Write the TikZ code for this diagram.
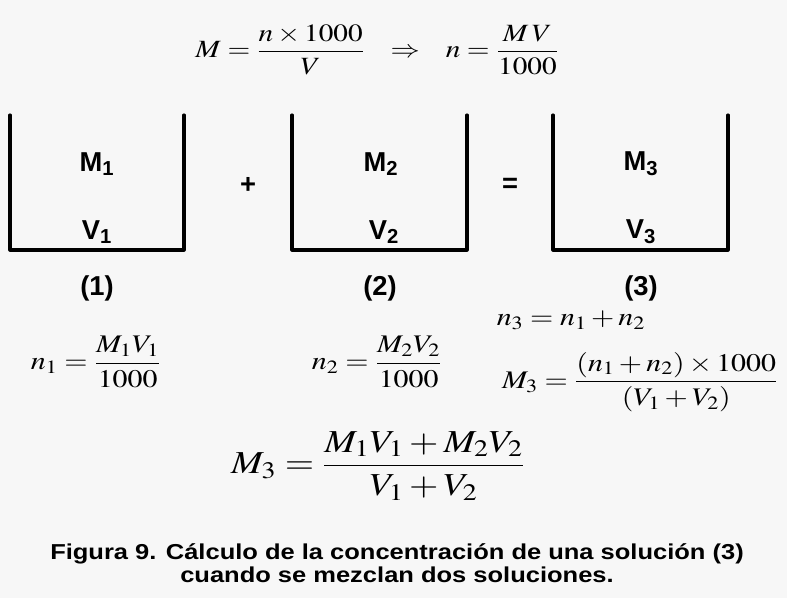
\documentclass[tikz,border=0pt]{standalone}
\usepackage{amsmath}
\usepackage{mathptmx}
\usepackage[no-math]{fontspec}
\setsansfont{Liberation Sans}
\definecolor{paper}{RGB}{247,247,247}
\newcommand{\widen}[1]{\scalebox{1.18}[1]{#1}}

\begin{document}
\begin{tikzpicture}[x=0.75pt,y=-0.75pt,line cap=round,line join=round,
  beaker/.style={line width=2.3pt},
  lab/.style={font=\sffamily\bfseries\fontsize{20.5}{24}\selectfont},
  eq/.style={font=\fontsize{19}{23}\selectfont},
  bigeq/.style={font=\fontsize{24}{29}\selectfont},
  capt/.style={font=\sffamily\bfseries\fontsize{16.2}{19.5}\selectfont}]
  \fill[paper] (0,0) rectangle (787,598);
  \useasboundingbox (0,0) rectangle (787,598);
  % top formula
  \node[eq,font=\fontsize{18.6}{22}\selectfont] (molar) at (377,50)
    {\widen{$M=\dfrac{n\times1000}{V}\;\;\;\Rightarrow\;\;\; n=\dfrac{M\,V}{1000}$}};
  % beakers
  \draw[beaker] (10,115) -- (10,250) -- (184,250) -- (184,115);
  \draw[beaker] (292,115) -- (292,250) -- (467,250) -- (467,115);
  \draw[beaker] (553,115) -- (553,250) -- (728,250) -- (728,115);
  \node[lab] (m1) at (97,164) {M\textsubscript{1}};
  \node[lab] (v1) at (97,232) {V\textsubscript{1}};
  \node[lab] (m2) at (381,164) {M\textsubscript{2}};
  \node[lab] (v2) at (384,232) {V\textsubscript{2}};
  \node[lab] (m3) at (641,164) {M\textsubscript{3}};
  \node[lab] (v3) at (641,232) {V\textsubscript{3}};
  \node[lab] (plus) at (248,185) {+};
  \node[lab] (equal) at (510,185) {=};
  \node[lab] (one) at (97,288) {(1)};
  \node[lab] (two) at (380,288) {(2)};
  \node[lab] (three) at (641,288) {(3)};
  % moles of each solution
  \node[eq] (n1) at (96,362) {\widen{$n_1=\dfrac{M_1V_1}{1000}$}};
  \node[eq] (n2) at (377,362) {\widen{$n_2=\dfrac{M_2V_2}{1000}$}};
  \node[eq] (n3) at (571,320) {\widen{$n_3=n_1+n_2$}};
  \node[eq] (m3a) at (640,382) {\widen{$M_3=\dfrac{(n_1+n_2)\times1000}{(V_1+V_2)}$}};
  \node[bigeq] (m3b) at (378,466) {\widen{$M_3=\dfrac{M_1V_1+M_2V_2}{V_1+V_2}$}};
  % caption
  \node[capt] (caption) at (397,566) {\widen{\begin{tabular}{@{}c@{}}Figura 9. Cálculo de la concentración de una solución (3)\\[-2pt]cuando se mezclan dos soluciones.\end{tabular}}};
\end{tikzpicture}
\end{document}
